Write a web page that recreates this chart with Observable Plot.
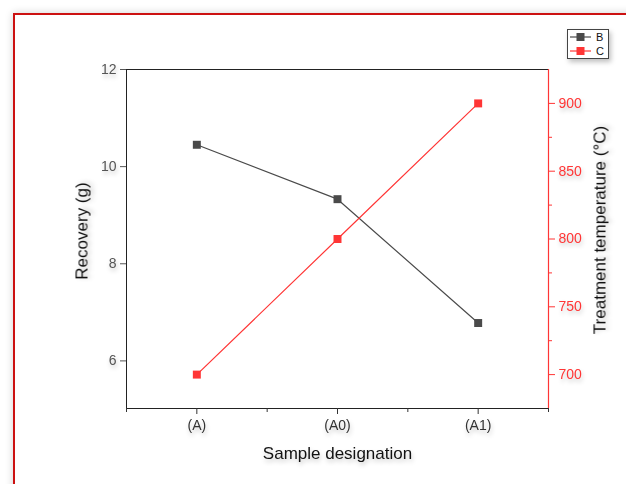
<!DOCTYPE html>
<html>
<head>
<meta charset="utf-8">
<script src="https://cdn.jsdelivr.net/npm/d3@7"></script>
<script src="https://cdn.jsdelivr.net/npm/@observablehq/plot@0.6"></script>
<style>
  html, body { margin: 0; padding: 0; background: #fff; overflow: hidden; width: 626px; height: 484px; }
  #wrap { position: relative; width: 626px; height: 484px; overflow: hidden; font-family: "Liberation Sans", Arial, sans-serif; }
  #border { position: absolute; left: 13px; top: 13px; width: 700px; height: 600px; border: 2px solid #cc1111; box-shadow: 0 0 8px rgba(0,0,0,0.18); }
  #chart { position: absolute; left: 0; top: 0; }
  #chart svg text { filter: drop-shadow(1px 3px 2px rgba(0,0,0,0.22)); }
  #legend { position: absolute; left: 567px; top: 29px; width: 40px; height: 28px; border: 1px solid #444; background: #fff; box-shadow: 2px 3px 5px rgba(0,0,0,0.25); }
</style>
</head>
<body>
<div id="wrap">
  <div id="border"></div>
  <div id="chart"></div>
  <div id="legend"></div>
</div>
<script>
const categories = ["(A)", "(A0)", "(A1)"];
const recovery = [10.45, 9.33, 6.78];
const temperature = [700, 800, 900];
const leftTicks = [6, 8, 10, 12];
const rightTicks = [700, 750, 800, 850, 900];
const rightMinorTicks = [725, 775, 825, 875];
const seriesNames = ["B", "C"];

const leftDomain = [5.02, 12];
const rightDomain = [675, 925];
const toLeft = v => leftDomain[0] + (v - rightDomain[0]) / (rightDomain[1] - rightDomain[0]) * (leftDomain[1] - leftDomain[0]);
const fromLeft = v => rightDomain[0] + (v - leftDomain[0]) / (leftDomain[1] - leftDomain[0]) * (rightDomain[1] - rightDomain[0]);

const dataB = categories.map((c, i) => ({x: i + 1, y: recovery[i]}));
const dataC = categories.map((c, i) => ({x: i + 1, y: toLeft(temperature[i])}));

const BLACK = "#4a4a4a";
const RED = "#ff3535";

const plot = Plot.plot({
  width: 626,
  height: 484,
  marginLeft: 126,
  marginRight: 78,
  marginTop: 69,
  marginBottom: 76,
  style: {fontFamily: "'Liberation Sans', Arial, sans-serif", background: "transparent", overflow: "visible"},
  x: {type: "linear", domain: [0.5, categories.length + 0.5]},
  y: {domain: leftDomain},
  marks: [
    // frame
    Plot.ruleY([leftDomain[1]], {stroke: "#222", strokeWidth: 1}),
    Plot.ruleY([leftDomain[0]], {stroke: "#222", strokeWidth: 1}),
    Plot.ruleX([0.5], {stroke: "#222", strokeWidth: 1}),
    // bottom axis
    Plot.axisX(categories.map((c, i) => i + 1), {anchor: "bottom", tickSize: 6, tickPadding: 6, tickFormat: v => categories[v - 1], fontSize: 14, color: "#333", label: null}),
    Plot.axisX([0.5, 1.5, 2.5, 3.5], {anchor: "bottom", tickSize: 4, tickFormat: () => "", color: "#333", label: null}),
    // left axis
    Plot.axisY(leftTicks, {anchor: "left", tickSize: 6, tickPadding: 4, fontSize: 14, color: "#555", label: null}),
    // right axis
    Plot.ruleX([categories.length + 0.5], {stroke: RED, strokeWidth: 1.2}),
    Plot.axisY(rightTicks.map(toLeft), {anchor: "right", tickSize: 6, tickPadding: 4, fontSize: 14, color: RED, tickFormat: v => String(Math.round(fromLeft(v))), label: null}),
    Plot.axisY(rightMinorTicks.map(toLeft), {anchor: "right", tickSize: 3, tickFormat: () => "", color: RED, label: null}),
    // axis titles
    Plot.text(["Sample designation"], {frameAnchor: "bottom", dy: 50, fontSize: 17, fill: "#111", textAnchor: "middle"}),
    Plot.text(["Recovery (g)"], {frameAnchor: "left", dx: -44, dy: -8, rotate: -90, fontSize: 17, fill: "#111", textAnchor: "middle"}),
    Plot.text(["Treatment temperature (\u00B0C)"], {frameAnchor: "right", dx: 52, dy: -9, rotate: -90, fontSize: 17, fill: "#111", textAnchor: "middle"}),
    // series
    Plot.line(dataB, {x: "x", y: "y", stroke: BLACK, strokeWidth: 1.2}),
    Plot.dot(dataB, {x: "x", y: "y", symbol: "square", r: 4.5, fill: BLACK, stroke: "none"}),
    Plot.line(dataC, {x: "x", y: "y", stroke: RED, strokeWidth: 1.2}),
    Plot.dot(dataC, {x: "x", y: "y", symbol: "square", r: 4.5, fill: RED, stroke: "none"})
  ]
});
document.getElementById("chart").appendChild(plot);

// legend
const colors = [BLACK, RED];
const lg = d3.select("#legend").append("svg").attr("width", 40).attr("height", 28)
  .style("font-family", "'Liberation Sans', Arial, sans-serif");
seriesNames.forEach((name, i) => {
  const cy = 7 + i * 14;
  lg.append("line").attr("x1", 2).attr("x2", 23).attr("y1", cy).attr("y2", cy).attr("stroke", colors[i]).attr("stroke-width", 1.2);
  lg.append("rect").attr("x", 8.5).attr("y", cy - 4).attr("width", 8).attr("height", 8).attr("fill", colors[i]);
  lg.append("text").attr("x", 28).attr("y", cy + 4).attr("font-size", 11).attr("fill", "#111").text(name);
});
</script>
</body>
</html>
